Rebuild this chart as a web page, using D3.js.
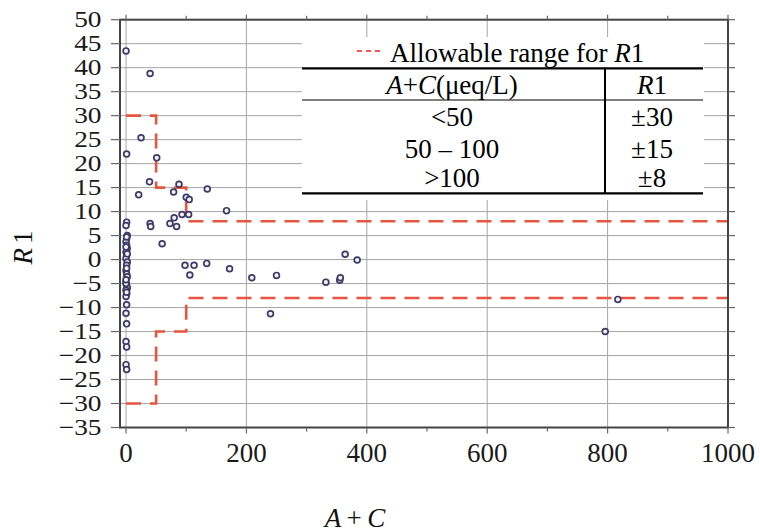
<!DOCTYPE html>
<html>
<head>
<meta charset="utf-8">
<script src="https://cdn.jsdelivr.net/npm/d3@7"></script>
<style>
  html, body { margin: 0; padding: 0; background: #ffffff; }
  svg { display: block; }
</style>
</head>
<body>
<svg id="chart" width="760" height="532"></svg>
<script>
// Sample sums of anions + cations (μeq/L)
const acSum = [
  0, 1, 1, 0, 2, 1, 0, 1, 2, 0, 1, 0, 2, 1, 0, 1, 2, 0, 1, 2, 0, 1, 0, 1, 0, 1, 0, 1, 0, 1, 0,
  1, 0, 2, 1, 0, 1,
  40, 25, 51, 39, 88, 21, 79, 100, 105, 135, 93, 104, 40, 41, 73, 80, 84, 167, 60,
  98, 113, 106, 134, 172, 209, 250, 240, 332, 355, 356, 364, 384, 817, 796
];
// Ion balance R1 (%) for each sample
const r1Values = [
  43.5, 22, 7.8, 7.1, 5.0, 4.4, 3.7, 3.0, 2.3, 1.6, 0.9, 0.2, -0.5, -1.2, -2.3, -3.0, -3.6, -4.7, -5.4, -5.9, -6.4, -7.1, -7.7, -9.4, -11.2, -13.4, -17.1, -18.2, -21.9, -22.9, -5.0,
  4.7, 2.6, 1.2, -1.8, -4.2, -6.8,
  38.8, 25.4, 21.2, 16.2, 15.7, 13.5, 14.1, 13.0, 12.5, 14.7, 9.4, 9.4, 7.5, 6.9, 7.5, 8.7, 6.9, 10.2, 3.3,
  -1.2, -1.2, -3.2, -0.8, -1.9, -3.8, -3.3, -11.3, -4.7, -4.3, -3.8, 1.1, -0.1, -8.3, -15.0
];

// Allowable range: breakpoints of A+C and the R1 limit that starts at each
const rangeBreaks = [0, 50, 100, 1000];
const rangeLimits = [30, 15, 8, 8];

// Table rows describing the allowable range
const tableRanges = ["<50", "50 \u2013 100", ">100"];
const tableLimits = ["\u00b130", "\u00b115", "\u00b18"];

const xTickValues = [0, 200, 400, 600, 800, 1000];
const xMinorTicks = [100, 300, 500, 700, 900];
const yTickValues = d3.range(-35, 51, 5);

const FONT = "Liberation Serif";
const svg = d3.select("#chart");

const x = d3.scaleLinear().domain([-10, 1000]).range([120, 728]);
const y = d3.scaleLinear().domain([-35, 50]).range([427.5, 19.7]);

const frameColor = "#444";
const gridColor = "#a5a5a5";

// Grid
const grid = svg.append("g");
grid.selectAll("line.h").data(yTickValues.filter(v => v > -35 && v < 50)).join("line")
  .attr("x1", x.range()[0]).attr("x2", x.range()[1])
  .attr("y1", d => y(d)).attr("y2", d => y(d))
  .attr("stroke", gridColor).attr("stroke-width", 1);
grid.selectAll("line.v").data(xTickValues.filter(v => v < 1000)).join("line")
  .attr("x1", d => x(d)).attr("x2", d => x(d))
  .attr("y1", y.range()[0]).attr("y2", y.range()[1])
  .attr("stroke", gridColor).attr("stroke-width", 1);

// White panel behind the legend table
svg.append("rect")
  .attr("x", 302).attr("y", 37).attr("width", 402).attr("height", 163)
  .attr("fill", "#ffffff");

// Allowable range bands (upper and lower dashed steps)
const stepData = rangeBreaks.map((b, i) => ({ x: b, lim: rangeLimits[i] }));
const stepLine = sign => d3.line()
  .x(d => x(d.x))
  .y(d => y(sign * d.lim))
  .curve(d3.curveStepAfter);
[1, -1].forEach(sign => {
  svg.append("path")
    .datum(stepData)
    .attr("d", stepLine(sign))
    .attr("fill", "none")
    .attr("stroke", "#e5553f")
    .attr("stroke-width", 2.6)
    .attr("stroke-dasharray", "15,9");
});

// Sample points
svg.append("g").selectAll("circle")
  .data(acSum.map((a, i) => ({ a, r: r1Values[i] })))
  .join("circle")
  .attr("cx", d => x(d.a))
  .attr("cy", d => y(d.r))
  .attr("r", 2.9)
  .attr("fill", "#f4f2f8")
  .attr("stroke", "#3d3a66")
  .attr("stroke-width", 1.7);

// Frame
svg.append("rect")
  .attr("x", x.range()[0]).attr("y", y.range()[1])
  .attr("width", x.range()[1] - x.range()[0])
  .attr("height", y.range()[0] - y.range()[1])
  .attr("fill", "none").attr("stroke", frameColor).attr("stroke-width", 2);

// Ticks
const ticks = svg.append("g").attr("stroke", "#666").attr("stroke-width", 1.2);
yTickValues.forEach(v => {
  ticks.append("line").attr("x1", x.range()[0] - 9).attr("x2", x.range()[0])
    .attr("y1", y(v)).attr("y2", y(v));
  ticks.append("line").attr("x1", x.range()[1]).attr("x2", x.range()[1] + 7)
    .attr("y1", y(v)).attr("y2", y(v));
});
xTickValues.forEach(v => {
  ticks.append("line").attr("x1", x(v)).attr("x2", x(v))
    .attr("y1", y.range()[0]).attr("y2", y.range()[0] + 6);
  ticks.append("line").attr("x1", x(v)).attr("x2", x(v))
    .attr("y1", y.range()[1] - 5).attr("y2", y.range()[1]);
});
xMinorTicks.forEach(v => {
  ticks.append("line").attr("x1", x(v)).attr("x2", x(v))
    .attr("y1", y.range()[0]).attr("y2", y.range()[0] + 4);
  ticks.append("line").attr("x1", x(v)).attr("x2", x(v))
    .attr("y1", y.range()[1] - 4).attr("y2", y.range()[1]);
});

// Tick labels
const fmt = d3.format("d");
svg.append("g").selectAll("text")
  .data(yTickValues)
  .join("text")
  .attr("transform", d => `translate(101.5,${y(d) + 7.5}) scale(1.19,1)`)
  .attr("text-anchor", "end")
  .attr("font-family", FONT)
  .attr("font-size", 23)
  .attr("fill", "#1a1a1a")
  .text(d => fmt(d));

svg.append("g").selectAll("text")
  .data(xTickValues)
  .join("text")
  .attr("x", d => x(d))
  .attr("y", 461.5)
  .attr("text-anchor", "middle")
  .attr("font-family", FONT)
  .attr("font-size", 27)
  .attr("fill", "#1a1a1a")
  .text(d => fmt(d));

// Axis titles
const yTitle = svg.append("text")
  .attr("transform", "translate(32,247.5) rotate(-90)")
  .attr("text-anchor", "middle")
  .attr("font-family", FONT)
  .attr("font-size", 27)
  .attr("fill", "#111");
yTitle.append("tspan").attr("font-style", "italic").text("R");
yTitle.append("tspan").attr("dx", 4).text("1");

const xTitle = svg.append("text")
  .attr("x", 355).attr("y", 526.5)
  .attr("text-anchor", "middle")
  .attr("font-family", FONT)
  .attr("font-size", 27)
  .attr("fill", "#111");
xTitle.append("tspan").attr("font-style", "italic").text("A");
xTitle.append("tspan").text("\u2009+\u2009");
xTitle.append("tspan").attr("font-style", "italic").text("C");

// Legend table
const tbl = svg.append("g");
tbl.append("line")
  .attr("x1", 357).attr("x2", 382).attr("y1", 51).attr("y2", 51)
  .attr("stroke", "#ff1a1a").attr("stroke-width", 1.6)
  .attr("stroke-dasharray", "5,4");
const legendText = tbl.append("text")
  .attr("x", 390).attr("y", 61.5)
  .attr("font-family", FONT)
  .attr("font-size", 27).attr("fill", "#000");
legendText.append("tspan").text("Allowable range for ");
legendText.append("tspan").attr("font-style", "italic").text("R");
legendText.append("tspan").text("1");

const tblLeft = 302, tblRight = 703, divider = 605;
tbl.append("line").attr("x1", tblLeft).attr("x2", tblRight)
  .attr("y1", 68.3).attr("y2", 68.3).attr("stroke", "#000").attr("stroke-width", 2.2);
tbl.append("line").attr("x1", tblLeft).attr("x2", tblRight)
  .attr("y1", 100).attr("y2", 100).attr("stroke", "#000").attr("stroke-width", 1.2);
tbl.append("line").attr("x1", tblLeft).attr("x2", tblRight)
  .attr("y1", 193.3).attr("y2", 193.3).attr("stroke", "#000").attr("stroke-width", 2.2);
tbl.append("line").attr("x1", divider).attr("x2", divider)
  .attr("y1", 67.5).attr("y2", 194).attr("stroke", "#000").attr("stroke-width", 2);

const col1 = 452, col2 = 652;
const head1 = tbl.append("text").attr("x", col1).attr("y", 94)
  .attr("text-anchor", "middle").attr("font-family", FONT)
  .attr("font-size", 27).attr("fill", "#000");
head1.append("tspan").attr("font-style", "italic").text("A");
head1.append("tspan").text("+");
head1.append("tspan").attr("font-style", "italic").text("C");
head1.append("tspan").text("(\u03bceq/L)");
const head2 = tbl.append("text").attr("x", col2).attr("y", 94)
  .attr("text-anchor", "middle").attr("font-family", FONT)
  .attr("font-size", 27).attr("fill", "#000");
head2.append("tspan").attr("font-style", "italic").text("R");
head2.append("tspan").text("1");

const rowBase = [126, 157.5, 187];
tbl.selectAll("text.rng").data(tableRanges).join("text")
  .attr("class", "rng")
  .attr("x", col1).attr("y", (d, i) => rowBase[i])
  .attr("text-anchor", "middle").attr("font-family", FONT)
  .attr("font-size", 27).attr("fill", "#000")
  .text(d => d);
tbl.selectAll("text.lim").data(tableLimits).join("text")
  .attr("class", "lim")
  .attr("x", col2).attr("y", (d, i) => rowBase[i])
  .attr("text-anchor", "middle").attr("font-family", FONT)
  .attr("font-size", 27).attr("fill", "#000")
  .text(d => d);
</script>
</body>
</html>
